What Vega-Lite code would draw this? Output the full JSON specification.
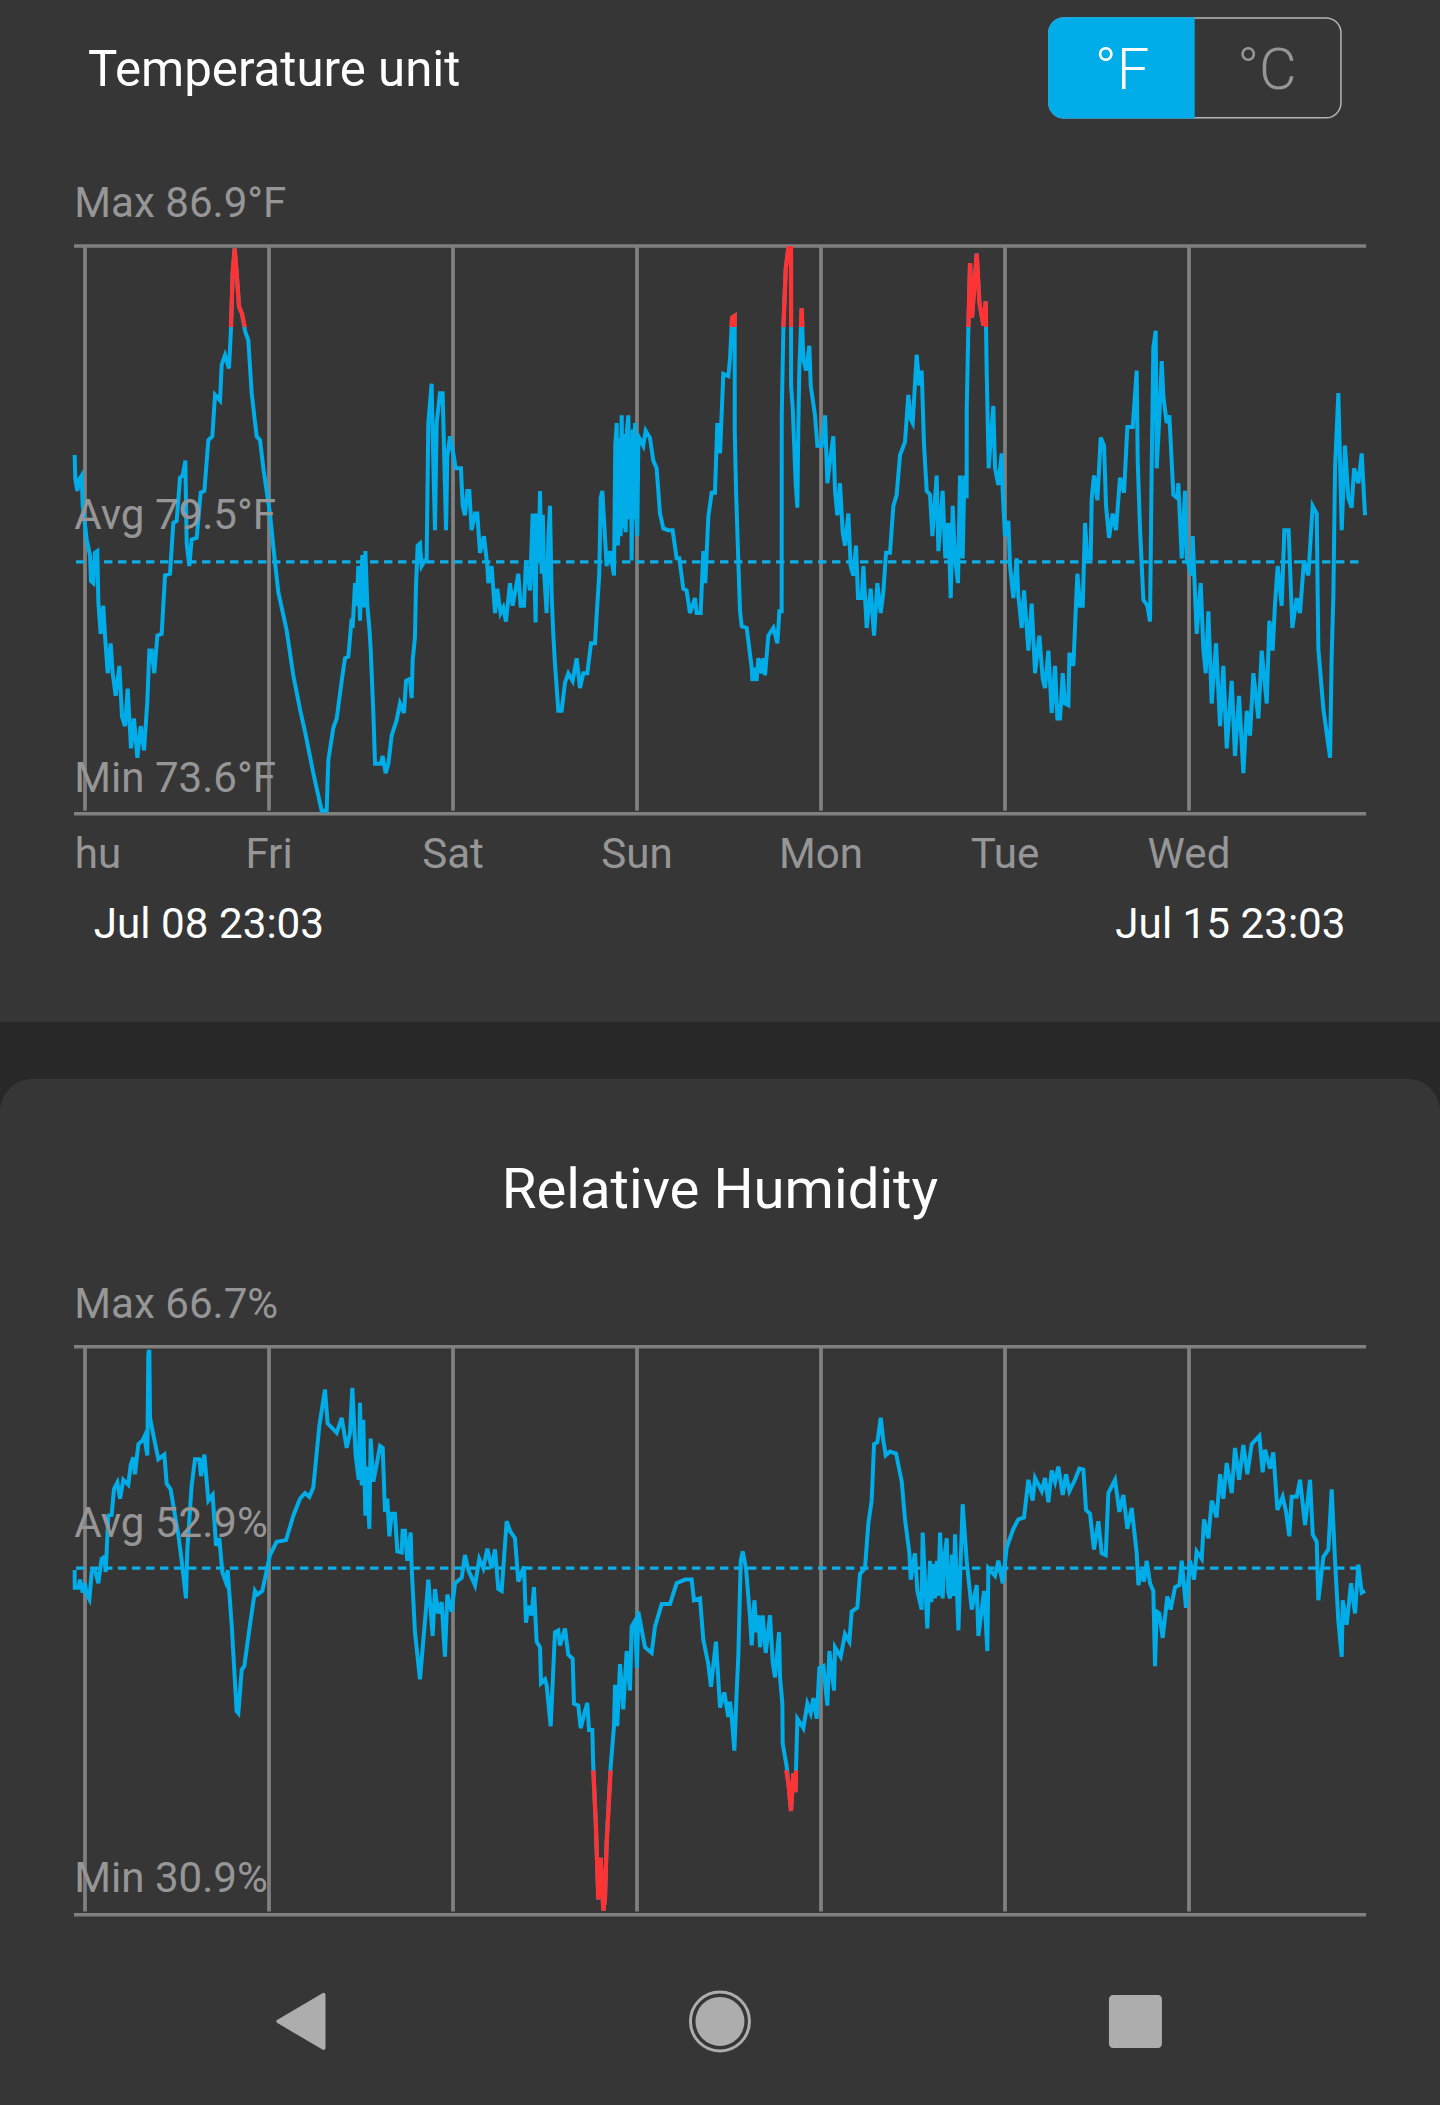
{"$schema":"https://vega.github.io/schema/vega-lite/v6.json","width":1440,"height":2105,"autosize":{"type":"fit","contains":"padding"},"padding":0,"background":"#363636","config":{"view":{"stroke":null}},
"datasets":{
"temperature":[{"h":-1.35,"v":82.0},{"h":-1.26,"v":81.43},{"h":-1.0,"v":81.16},{"h":-0.74,"v":81.43},{"h":-0.43,"v":81.52},{"h":-0.3,"v":80.81},{"h":0,"v":80.37},{"h":0.22,"v":80.02},{"h":0.65,"v":79.66},{"h":0.78,"v":79.05},{"h":1.09,"v":79.0},{"h":1.3,"v":79.71},{"h":1.61,"v":79.75},{"h":1.74,"v":78.56},{"h":2.04,"v":77.81},{"h":2.39,"v":78.47},{"h":2.61,"v":77.77},{"h":2.96,"v":76.89},{"h":3.35,"v":77.59},{"h":3.61,"v":76.89},{"h":4.0,"v":76.36},{"h":4.48,"v":77.06},{"h":4.83,"v":75.87},{"h":5.22,"v":75.65},{"h":5.57,"v":76.53},{"h":6.0,"v":75.13},{"h":6.39,"v":75.83},{"h":6.83,"v":74.91},{"h":7.26,"v":75.65},{"h":7.7,"v":75.08},{"h":8.13,"v":76.23},{"h":8.39,"v":77.42},{"h":8.7,"v":77.42},{"h":9.04,"v":76.89},{"h":9.44,"v":77.77},{"h":10.0,"v":77.81},{"h":10.44,"v":79.18},{"h":11.09,"v":79.22},{"h":11.52,"v":80.41},{"h":11.96,"v":80.46},{"h":12.39,"v":81.47},{"h":12.74,"v":81.52},{"h":13.09,"v":81.87},{"h":13.26,"v":79.93},{"h":13.61,"v":79.4},{"h":13.91,"v":80.02},{"h":14.57,"v":80.06},{"h":15.09,"v":81.12},{"h":15.57,"v":81.16},{"h":16.09,"v":82.35},{"h":16.61,"v":82.44},{"h":16.96,"v":83.41},{"h":17.61,"v":83.28},{"h":17.83,"v":84.12},{"h":18.26,"v":84.34},{"h":18.78,"v":84.03},{"h":19.04,"v":84.95},{"h":19.26,"v":86.27},{"h":19.52,"v":86.84},{"h":19.78,"v":86.27},{"h":20.09,"v":85.48},{"h":20.48,"v":85.31},{"h":20.87,"v":84.91},{"h":21.3,"v":84.69},{"h":21.74,"v":83.45},{"h":22.39,"v":82.44},{"h":22.83,"v":82.35},{"h":23.26,"v":81.69},{"h":24.13,"v":80.63},{"h":24.57,"v":79.84},{"h":25.22,"v":78.78},{"h":26.3,"v":77.9},{"h":27.17,"v":76.84},{"h":28.04,"v":76.05},{"h":28.7,"v":75.52},{"h":29.78,"v":74.55},{"h":30.87,"v":73.67},{"h":31.52,"v":73.67},{"h":31.74,"v":74.86},{"h":32.39,"v":75.61},{"h":32.83,"v":75.83},{"h":33.48,"v":76.71},{"h":33.91,"v":77.24},{"h":34.35,"v":77.28},{"h":34.78,"v":78.17},{"h":34.91,"v":77.95},{"h":35.22,"v":79.0},{"h":35.43,"v":78.47},{"h":35.65,"v":79.4},{"h":35.87,"v":78.12},{"h":36.17,"v":79.66},{"h":36.39,"v":78.43},{"h":36.57,"v":79.75},{"h":36.83,"v":78.47},{"h":37.09,"v":77.95},{"h":37.26,"v":77.46},{"h":37.61,"v":75.96},{"h":37.83,"v":74.77},{"h":38.57,"v":74.77},{"h":38.83,"v":74.95},{"h":39.22,"v":74.55},{"h":39.57,"v":74.77},{"h":40.0,"v":75.43},{"h":40.65,"v":75.79},{"h":41.08,"v":76.18},{"h":41.61,"v":75.96},{"h":41.87,"v":76.71},{"h":42.39,"v":76.76},{"h":42.61,"v":76.31},{"h":42.74,"v":77.2},{"h":43.04,"v":77.73},{"h":43.17,"v":78.91},{"h":43.39,"v":79.88},{"h":43.69,"v":79.93},{"h":43.91,"v":79.4},{"h":44.35,"v":79.53},{"h":44.56,"v":79.53},{"h":44.78,"v":82.75},{"h":45.21,"v":83.67},{"h":45.43,"v":81.87},{"h":45.65,"v":80.24},{"h":45.87,"v":82.75},{"h":46.3,"v":83.45},{"h":46.65,"v":83.45},{"h":46.87,"v":81.87},{"h":47.09,"v":80.24},{"h":47.26,"v":81.96},{"h":47.61,"v":82.44},{"h":48.04,"v":82.04},{"h":48.35,"v":81.69},{"h":49.04,"v":81.69},{"h":49.26,"v":80.81},{"h":49.56,"v":80.59},{"h":49.87,"v":81.16},{"h":50.13,"v":81.16},{"h":50.43,"v":80.24},{"h":50.87,"v":80.63},{"h":51.17,"v":80.63},{"h":51.52,"v":79.71},{"h":52.04,"v":80.1},{"h":52.48,"v":79.4},{"h":52.61,"v":79.0},{"h":53.04,"v":79.4},{"h":53.48,"v":78.3},{"h":53.78,"v":78.87},{"h":54.21,"v":78.3},{"h":54.56,"v":78.43},{"h":54.91,"v":78.1},{"h":55.43,"v":79.0},{"h":55.78,"v":78.47},{"h":56.52,"v":79.22},{"h":56.82,"v":78.47},{"h":57.26,"v":78.47},{"h":57.52,"v":79.53},{"h":58.04,"v":78.83},{"h":58.39,"v":80.63},{"h":58.78,"v":78.08},{"h":58.91,"v":80.63},{"h":59.17,"v":79.5},{"h":59.35,"v":81.16},{"h":59.56,"v":79.22},{"h":59.72,"v":80.6},{"h":59.87,"v":79.3},{"h":60.21,"v":78.3},{"h":60.45,"v":80.1},{"h":60.65,"v":80.81},{"h":60.87,"v":78.7},{"h":61.08,"v":77.81},{"h":61.3,"v":77.11},{"h":61.74,"v":76.01},{"h":62.17,"v":76.01},{"h":62.61,"v":76.67},{"h":63.04,"v":76.89},{"h":63.61,"v":76.71},{"h":64.13,"v":77.24},{"h":64.56,"v":76.54},{"h":65.0,"v":76.89},{"h":65.52,"v":76.89},{"h":66.0,"v":77.59},{"h":66.52,"v":77.59},{"h":66.74,"v":78.25},{"h":67.08,"v":79.22},{"h":67.26,"v":80.99},{"h":67.48,"v":81.16},{"h":67.82,"v":80.1},{"h":68.04,"v":79.4},{"h":68.48,"v":79.75},{"h":69.0,"v":79.18},{"h":69.17,"v":82.22},{"h":69.35,"v":82.75},{"h":69.52,"v":79.88},{"h":69.7,"v":82.4},{"h":69.87,"v":80.1},{"h":70.0,"v":82.93},{"h":70.17,"v":80.28},{"h":70.35,"v":82.5},{"h":70.52,"v":80.19},{"h":70.7,"v":82.6},{"h":70.87,"v":82.93},{"h":71.04,"v":80.5},{"h":71.2,"v":82.2},{"h":71.3,"v":79.53},{"h":71.45,"v":82.6},{"h":71.6,"v":80.5},{"h":71.74,"v":82.75},{"h":71.9,"v":80.6},{"h":72.04,"v":80.1},{"h":72.17,"v":82.2},{"h":72.3,"v":82.4},{"h":72.82,"v":82.22},{"h":73.13,"v":82.57},{"h":73.69,"v":82.4},{"h":74.13,"v":81.87},{"h":74.56,"v":81.69},{"h":75.0,"v":80.63},{"h":75.43,"v":80.28},{"h":76.08,"v":80.24},{"h":76.65,"v":80.24},{"h":77.17,"v":79.58},{"h":77.52,"v":79.58},{"h":78.04,"v":78.87},{"h":78.47,"v":78.83},{"h":78.91,"v":78.3},{"h":79.56,"v":78.65},{"h":79.78,"v":78.3},{"h":80.3,"v":78.3},{"h":80.65,"v":79.75},{"h":80.91,"v":79.0},{"h":81.3,"v":80.55},{"h":81.74,"v":81.12},{"h":82.17,"v":81.12},{"h":82.48,"v":82.75},{"h":82.83,"v":82.04},{"h":83.26,"v":83.9},{"h":83.92,"v":83.85},{"h":84.13,"v":84.25},{"h":84.4,"v":85.22},{"h":84.74,"v":85.26},{"h":84.75,"v":82.57},{"h":84.92,"v":81.16},{"h":85.22,"v":79.49},{"h":85.44,"v":78.34},{"h":85.66,"v":77.99},{"h":86.31,"v":77.95},{"h":86.96,"v":77.02},{"h":87.05,"v":76.71},{"h":87.4,"v":77.02},{"h":87.61,"v":76.71},{"h":87.83,"v":77.24},{"h":88.26,"v":76.89},{"h":88.48,"v":77.24},{"h":88.7,"v":76.84},{"h":89.13,"v":77.77},{"h":89.79,"v":77.95},{"h":90.31,"v":77.59},{"h":90.57,"v":78.34},{"h":90.87,"v":78.34},{"h":90.88,"v":82.93},{"h":91.09,"v":84.95},{"h":91.4,"v":86.36},{"h":91.74,"v":86.85},{"h":92.09,"v":86.85},{"h":92.1,"v":83.63},{"h":92.31,"v":83.1},{"h":92.7,"v":81.34},{"h":92.92,"v":80.77},{"h":93.05,"v":82.75},{"h":93.18,"v":84.07},{"h":93.48,"v":85.44},{"h":93.7,"v":84.25},{"h":94.05,"v":83.98},{"h":94.48,"v":84.56},{"h":94.66,"v":83.63},{"h":95.22,"v":82.93},{"h":95.53,"v":82.22},{"h":96.09,"v":82.22},{"h":96.53,"v":82.93},{"h":96.83,"v":81.34},{"h":97.18,"v":81.87},{"h":97.61,"v":82.44},{"h":97.83,"v":81.16},{"h":98.13,"v":80.59},{"h":98.48,"v":81.34},{"h":98.83,"v":80.19},{"h":99.13,"v":79.88},{"h":99.57,"v":80.63},{"h":99.87,"v":79.4},{"h":100.22,"v":79.18},{"h":100.57,"v":79.88},{"h":100.83,"v":78.65},{"h":101.31,"v":78.65},{"h":101.53,"v":79.4},{"h":101.96,"v":77.95},{"h":102.48,"v":78.87},{"h":102.92,"v":77.77},{"h":103.35,"v":79.0},{"h":103.79,"v":78.3},{"h":104.13,"v":78.78},{"h":104.48,"v":79.71},{"h":105.0,"v":79.71},{"h":105.44,"v":80.81},{"h":105.87,"v":81.07},{"h":106.31,"v":82.0},{"h":106.96,"v":82.31},{"h":107.39,"v":83.41},{"h":107.7,"v":82.84},{"h":107.96,"v":82.75},{"h":108.48,"v":84.35},{"h":108.83,"v":83.63},{"h":109.13,"v":83.98},{"h":109.44,"v":82.22},{"h":109.79,"v":81.16},{"h":110.22,"v":81.07},{"h":110.53,"v":80.1},{"h":111.09,"v":81.52},{"h":111.31,"v":79.75},{"h":111.87,"v":81.16},{"h":112.22,"v":79.58},{"h":112.61,"v":80.41},{"h":112.92,"v":78.65},{"h":113.18,"v":80.81},{"h":113.48,"v":79.58},{"h":113.87,"v":79.0},{"h":114.13,"v":81.52},{"h":114.48,"v":79.58},{"h":114.7,"v":81.52},{"h":115.0,"v":80.99},{"h":115.01,"v":83.1},{"h":115.22,"v":84.95},{"h":115.44,"v":86.5},{"h":115.7,"v":85.22},{"h":116.31,"v":86.72},{"h":116.66,"v":85.57},{"h":117.18,"v":85.04},{"h":117.48,"v":85.6},{"h":117.61,"v":83.98},{"h":117.87,"v":81.69},{"h":118.48,"v":83.15},{"h":118.7,"v":81.69},{"h":119.13,"v":81.3},{"h":119.57,"v":82.04},{"h":119.7,"v":81.16},{"h":120.0,"v":80.1},{"h":120.44,"v":80.46},{"h":120.66,"v":79.4},{"h":121.09,"v":78.65},{"h":121.53,"v":79.58},{"h":121.74,"v":78.7},{"h":122.18,"v":77.95},{"h":122.48,"v":78.83},{"h":123.05,"v":77.42},{"h":123.48,"v":78.52},{"h":123.92,"v":76.89},{"h":124.48,"v":77.77},{"h":124.92,"v":76.76},{"h":125.22,"v":76.54},{"h":125.66,"v":77.42},{"h":126.09,"v":75.96},{"h":126.53,"v":77.06},{"h":126.83,"v":75.83},{"h":127.18,"v":75.83},{"h":127.53,"v":76.89},{"h":127.83,"v":76.18},{"h":128.27,"v":76.14},{"h":128.4,"v":77.37},{"h":128.92,"v":77.06},{"h":129.22,"v":78.34},{"h":129.44,"v":79.22},{"h":129.79,"v":78.47},{"h":130.14,"v":78.47},{"h":130.44,"v":80.41},{"h":130.74,"v":79.58},{"h":131.18,"v":79.58},{"h":131.31,"v":80.99},{"h":131.61,"v":81.52},{"h":132.05,"v":80.94},{"h":132.48,"v":82.41},{"h":132.92,"v":82.22},{"h":133.18,"v":80.81},{"h":133.57,"v":80.06},{"h":134.05,"v":80.63},{"h":134.48,"v":80.24},{"h":135.0,"v":81.47},{"h":135.53,"v":81.12},{"h":135.96,"v":82.66},{"h":136.66,"v":82.66},{"h":137.18,"v":83.98},{"h":137.31,"v":81.87},{"h":137.61,"v":80.28},{"h":138.05,"v":78.61},{"h":138.57,"v":78.47},{"h":138.92,"v":78.1},{"h":139.13,"v":81.69},{"h":139.35,"v":84.51},{"h":139.66,"v":84.91},{"h":139.79,"v":81.69},{"h":140.09,"v":82.75},{"h":140.44,"v":84.2},{"h":140.66,"v":83.37},{"h":141.09,"v":82.75},{"h":141.44,"v":82.93},{"h":141.96,"v":81.07},{"h":142.48,"v":80.99},{"h":142.61,"v":81.34},{"h":143.05,"v":79.58},{"h":143.48,"v":81.16},{"h":143.7,"v":79.58},{"h":144.35,"v":79.18},{"h":144.48,"v":80.1},{"h":145.0,"v":77.81},{"h":145.53,"v":79.0},{"h":145.87,"v":77.46},{"h":146.18,"v":76.89},{"h":146.53,"v":78.34},{"h":146.96,"v":76.18},{"h":147.53,"v":77.59},{"h":148.05,"v":75.65},{"h":148.48,"v":77.06},{"h":148.92,"v":75.13},{"h":149.57,"v":76.71},{"h":150.0,"v":74.95},{"h":150.53,"v":76.36},{"h":151.09,"v":74.55},{"h":151.53,"v":76.01},{"h":151.96,"v":75.43},{"h":152.4,"v":76.89},{"h":153.05,"v":75.83},{"h":153.48,"v":77.42},{"h":154.14,"v":76.18},{"h":154.48,"v":78.12},{"h":154.92,"v":77.42},{"h":155.22,"v":78.52},{"h":155.57,"v":79.4},{"h":156.09,"v":78.47},{"h":156.44,"v":80.24},{"h":157.0,"v":80.24},{"h":157.48,"v":77.95},{"h":158.05,"v":78.65},{"h":158.48,"v":78.3},{"h":159.0,"v":79.53},{"h":159.57,"v":79.18},{"h":160.13,"v":80.81},{"h":160.66,"v":80.63},{"h":160.87,"v":77.46},{"h":161.53,"v":76.05},{"h":162.4,"v":74.91},{"h":162.61,"v":77.29},{"h":162.83,"v":78.69},{"h":163.05,"v":81.69},{"h":163.48,"v":83.45},{"h":163.92,"v":80.24},{"h":164.35,"v":82.22},{"h":164.79,"v":80.99},{"h":165.22,"v":80.77},{"h":165.53,"v":81.69},{"h":166.09,"v":81.34},{"h":166.53,"v":82.04},{"h":166.96,"v":80.59}],
"tempHigh":[{"h":19.04,"v":85.0,"seg":"a"},{"h":19.26,"v":86.27,"seg":"a"},{"h":19.52,"v":86.84,"seg":"a"},{"h":19.78,"v":86.27,"seg":"a"},{"h":20.09,"v":85.48,"seg":"a"},{"h":20.48,"v":85.31,"seg":"a"},{"h":20.85,"v":85.0,"seg":"a"},{"h":84.33,"v":85.0,"seg":"b"},{"h":84.4,"v":85.22,"seg":"b"},{"h":84.74,"v":85.26,"seg":"b"},{"h":84.75,"v":85.0,"seg":"b"},{"h":91.09,"v":85.0,"seg":"c"},{"h":91.4,"v":86.36,"seg":"c"},{"h":91.74,"v":86.85,"seg":"c"},{"h":92.09,"v":86.85,"seg":"c"},{"h":92.1,"v":85.0,"seg":"c"},{"h":93.37,"v":85.0,"seg":"d"},{"h":93.48,"v":85.44,"seg":"d"},{"h":93.57,"v":85.0,"seg":"d"},{"h":115.22,"v":85.0,"seg":"e"},{"h":115.44,"v":86.5,"seg":"e"},{"h":115.7,"v":85.22,"seg":"e"},{"h":116.31,"v":86.72,"seg":"e"},{"h":116.66,"v":85.57,"seg":"e"},{"h":117.18,"v":85.04,"seg":"e"},{"h":117.48,"v":85.6,"seg":"e"},{"h":117.53,"v":85.0,"seg":"e"}],
"humidity":[{"h":-1.35,"v":52.62},{"h":-1.34,"v":51.5},{"h":-0.87,"v":51.5},{"h":-0.65,"v":52.02},{"h":-0.3,"v":51.2},{"h":0,"v":51.79},{"h":0.22,"v":51.08},{"h":0.57,"v":50.77},{"h":0.87,"v":52.5},{"h":1.3,"v":52.62},{"h":1.74,"v":51.79},{"h":2.17,"v":53.33},{"h":2.52,"v":53.45},{"h":2.7,"v":52.5},{"h":3.04,"v":56.05},{"h":3.48,"v":56.1},{"h":3.78,"v":57.72},{"h":4.22,"v":58.14},{"h":4.57,"v":57.12},{"h":5.0,"v":58.31},{"h":5.65,"v":58.0},{"h":5.96,"v":59.25},{"h":6.3,"v":59.73},{"h":6.52,"v":58.66},{"h":6.96,"v":60.56},{"h":7.52,"v":60.8},{"h":7.74,"v":61.03},{"h":8.13,"v":59.85},{"h":8.26,"v":66.25},{"h":8.39,"v":66.49},{"h":8.48,"v":62.22},{"h":8.91,"v":61.15},{"h":9.57,"v":59.61},{"h":10.35,"v":59.9},{"h":10.65,"v":58.07},{"h":11.17,"v":57.71},{"h":11.74,"v":56.05},{"h":12.17,"v":54.87},{"h":12.61,"v":53.21},{"h":13.17,"v":50.84},{"h":13.35,"v":53.92},{"h":13.91,"v":57.95},{"h":14.35,"v":59.61},{"h":14.91,"v":59.61},{"h":15.13,"v":58.54},{"h":15.57,"v":59.9},{"h":16.09,"v":57.0},{"h":16.65,"v":57.36},{"h":17.09,"v":54.16},{"h":17.52,"v":54.63},{"h":17.91,"v":52.5},{"h":18.35,"v":51.9},{"h":18.61,"v":52.62},{"h":19.13,"v":49.18},{"h":19.78,"v":43.73},{"h":20.0,"v":43.61},{"h":20.44,"v":46.34},{"h":20.78,"v":46.57},{"h":21.52,"v":49.18},{"h":22.17,"v":51.31},{"h":22.48,"v":51.08},{"h":23.13,"v":51.31},{"h":24.13,"v":53.57},{"h":25.0,"v":54.4},{"h":26.22,"v":54.51},{"h":26.74,"v":55.34},{"h":27.17,"v":56.05},{"h":28.04,"v":57.12},{"h":28.7,"v":57.48},{"h":29.26,"v":57.24},{"h":29.78,"v":57.83},{"h":30.57,"v":61.74},{"h":31.3,"v":64.0},{"h":31.65,"v":61.86},{"h":32.83,"v":61.27},{"h":33.48,"v":62.22},{"h":34.13,"v":60.32},{"h":34.57,"v":61.27},{"h":34.87,"v":64.1},{"h":35.3,"v":59.85},{"h":35.7,"v":58.31},{"h":35.87,"v":63.17},{"h":36.09,"v":57.95},{"h":36.3,"v":62.1},{"h":36.57,"v":56.05},{"h":36.74,"v":59.14},{"h":37.09,"v":55.22},{"h":37.26,"v":60.91},{"h":37.61,"v":58.19},{"h":38.04,"v":59.26},{"h":38.48,"v":60.44},{"h":38.83,"v":60.32},{"h":39.13,"v":56.29},{"h":39.43,"v":57.12},{"h":39.7,"v":54.75},{"h":40.0,"v":56.17},{"h":40.43,"v":56.17},{"h":40.74,"v":53.8},{"h":41.3,"v":53.73},{"h":41.43,"v":55.1},{"h":41.74,"v":55.1},{"h":42.04,"v":53.21},{"h":42.48,"v":54.99},{"h":42.61,"v":52.74},{"h":43.04,"v":48.7},{"h":43.69,"v":45.74},{"h":44.35,"v":49.42},{"h":44.78,"v":52.02},{"h":45.0,"v":50.6},{"h":45.35,"v":48.47},{"h":45.65,"v":51.43},{"h":46.08,"v":49.89},{"h":46.52,"v":50.6},{"h":46.95,"v":47.16},{"h":47.26,"v":51.08},{"h":47.82,"v":50.0},{"h":48.26,"v":51.79},{"h":49.13,"v":52.14},{"h":49.56,"v":53.57},{"h":50.0,"v":52.62},{"h":50.87,"v":51.67},{"h":51.43,"v":53.33},{"h":51.95,"v":52.74},{"h":52.48,"v":53.97},{"h":53.04,"v":52.74},{"h":53.48,"v":53.92},{"h":53.91,"v":51.43},{"h":54.35,"v":51.31},{"h":55.0,"v":55.7},{"h":55.43,"v":55.1},{"h":56.08,"v":54.63},{"h":56.52,"v":51.9},{"h":57.26,"v":52.85},{"h":57.52,"v":49.3},{"h":57.82,"v":50.37},{"h":58.26,"v":49.77},{"h":58.56,"v":51.55},{"h":58.91,"v":48.11},{"h":59.35,"v":47.76},{"h":59.48,"v":45.5},{"h":60.0,"v":45.74},{"h":60.21,"v":45.38},{"h":60.74,"v":42.78},{"h":61.3,"v":48.7},{"h":61.74,"v":48.82},{"h":61.95,"v":47.87},{"h":62.61,"v":48.94},{"h":63.04,"v":47.28},{"h":63.61,"v":47.04},{"h":63.78,"v":44.2},{"h":64.35,"v":44.08},{"h":64.65,"v":42.66},{"h":65.21,"v":43.73},{"h":65.52,"v":44.25},{"h":65.74,"v":42.54},{"h":66.17,"v":42.54},{"h":66.3,"v":40.22},{"h":66.65,"v":36.38},{"h":66.95,"v":31.87},{"h":67.26,"v":34.48},{"h":67.61,"v":31.16},{"h":67.82,"v":31.87},{"h":68.04,"v":35.43},{"h":68.56,"v":40.22},{"h":69.0,"v":42.78},{"h":69.13,"v":45.39},{"h":69.43,"v":42.78},{"h":69.78,"v":46.69},{"h":70.21,"v":43.84},{"h":70.65,"v":47.52},{"h":71.08,"v":45.03},{"h":71.3,"v":49.06},{"h":71.74,"v":49.42},{"h":72.0,"v":46.45},{"h":72.17,"v":50.01},{"h":73.04,"v":47.76},{"h":73.91,"v":47.4},{"h":74.35,"v":49.06},{"h":75.22,"v":50.48},{"h":76.3,"v":50.48},{"h":77.17,"v":51.79},{"h":78.26,"v":52.02},{"h":79.13,"v":52.02},{"h":79.43,"v":50.72},{"h":80.22,"v":50.84},{"h":80.65,"v":48.23},{"h":81.3,"v":46.69},{"h":81.65,"v":45.27},{"h":82.3,"v":48.11},{"h":82.83,"v":43.96},{"h":83.39,"v":44.91},{"h":83.91,"v":43.37},{"h":84.13,"v":44.32},{"h":84.35,"v":43.37},{"h":84.7,"v":41.24},{"h":85.0,"v":44.91},{"h":85.22,"v":47.28},{"h":85.53,"v":53.21},{"h":85.79,"v":53.8},{"h":86.22,"v":52.74},{"h":86.74,"v":49.65},{"h":86.96,"v":47.87},{"h":87.31,"v":50.72},{"h":87.61,"v":48.7},{"h":87.83,"v":49.77},{"h":88.05,"v":47.76},{"h":88.4,"v":49.77},{"h":88.79,"v":47.4},{"h":89.35,"v":49.77},{"h":89.7,"v":46.81},{"h":90.0,"v":45.86},{"h":90.53,"v":48.7},{"h":90.66,"v":45.86},{"h":90.96,"v":44.2},{"h":91.0,"v":41.71},{"h":91.53,"v":40.22},{"h":91.74,"v":39.22},{"h":92.09,"v":37.44},{"h":92.39,"v":39.81},{"h":92.66,"v":38.63},{"h":92.92,"v":43.25},{"h":93.7,"v":42.66},{"h":94.22,"v":44.2},{"h":94.66,"v":43.61},{"h":95.0,"v":44.56},{"h":95.44,"v":43.25},{"h":95.79,"v":46.45},{"h":96.31,"v":46.57},{"h":96.83,"v":44.08},{"h":97.09,"v":47.52},{"h":97.7,"v":45.03},{"h":97.83,"v":47.76},{"h":98.57,"v":47.16},{"h":99.13,"v":48.59},{"h":99.7,"v":48.11},{"h":100.0,"v":50.01},{"h":100.74,"v":50.25},{"h":101.09,"v":52.38},{"h":101.74,"v":52.74},{"h":102.18,"v":55.58},{"h":102.61,"v":57.0},{"h":102.92,"v":60.56},{"h":103.35,"v":60.68},{"h":103.79,"v":62.22},{"h":104.13,"v":60.8},{"h":104.44,"v":59.85},{"h":105.0,"v":60.09},{"h":105.79,"v":59.97},{"h":106.53,"v":58.19},{"h":106.96,"v":55.82},{"h":107.53,"v":53.68},{"h":107.7,"v":52.02},{"h":108.26,"v":53.68},{"h":108.57,"v":51.31},{"h":109.13,"v":50.13},{"h":109.26,"v":54.99},{"h":109.87,"v":48.94},{"h":110.22,"v":53.21},{"h":110.4,"v":50.6},{"h":110.66,"v":53.0},{"h":110.85,"v":50.84},{"h":111.09,"v":53.21},{"h":111.3,"v":51.0},{"h":111.53,"v":54.99},{"h":111.87,"v":50.84},{"h":112.1,"v":53.4},{"h":112.4,"v":54.63},{"h":112.6,"v":51.2},{"h":112.83,"v":50.84},{"h":113.1,"v":53.6},{"h":113.3,"v":51.0},{"h":113.48,"v":54.87},{"h":113.92,"v":48.82},{"h":114.22,"v":53.21},{"h":114.48,"v":56.77},{"h":115.0,"v":53.21},{"h":115.66,"v":50.13},{"h":116.31,"v":51.67},{"h":116.53,"v":48.47},{"h":117.27,"v":51.31},{"h":117.7,"v":47.52},{"h":117.83,"v":52.74},{"h":118.7,"v":52.26},{"h":119.13,"v":53.21},{"h":119.7,"v":51.79},{"h":120.22,"v":54.04},{"h":121.09,"v":55.22},{"h":121.74,"v":55.82},{"h":122.48,"v":55.94},{"h":123.05,"v":58.31},{"h":123.61,"v":57.0},{"h":123.92,"v":58.43},{"h":124.79,"v":57.6},{"h":125.22,"v":58.43},{"h":125.66,"v":56.9},{"h":126.09,"v":58.9},{"h":126.53,"v":58.19},{"h":126.96,"v":59.14},{"h":127.53,"v":57.36},{"h":127.96,"v":58.66},{"h":128.4,"v":57.6},{"h":129.13,"v":58.31},{"h":129.7,"v":59.02},{"h":130.22,"v":58.95},{"h":130.57,"v":56.41},{"h":131.09,"v":56.17},{"h":131.61,"v":53.92},{"h":132.18,"v":55.7},{"h":132.61,"v":53.68},{"h":133.14,"v":53.56},{"h":133.48,"v":57.48},{"h":134.35,"v":58.31},{"h":134.92,"v":56.29},{"h":135.44,"v":57.36},{"h":135.96,"v":55.22},{"h":136.53,"v":56.53},{"h":137.18,"v":53.68},{"h":137.4,"v":51.67},{"h":137.83,"v":52.62},{"h":138.14,"v":51.9},{"h":138.48,"v":53.21},{"h":138.92,"v":51.79},{"h":139.35,"v":51.31},{"h":139.57,"v":46.57},{"h":139.79,"v":50.01},{"h":140.13,"v":49.89},{"h":140.57,"v":48.35},{"h":141.18,"v":50.96},{"h":141.61,"v":50.13},{"h":142.18,"v":51.55},{"h":142.74,"v":51.67},{"h":143.05,"v":53.21},{"h":143.61,"v":50.25},{"h":144.13,"v":53.21},{"h":144.66,"v":52.02},{"h":145.0,"v":53.8},{"h":145.66,"v":53.33},{"h":145.96,"v":55.82},{"h":146.53,"v":54.63},{"h":146.96,"v":57.0},{"h":147.61,"v":55.94},{"h":148.05,"v":58.66},{"h":148.48,"v":57.12},{"h":148.92,"v":59.37},{"h":149.57,"v":57.48},{"h":150.0,"v":60.32},{"h":150.53,"v":58.31},{"h":151.09,"v":60.51},{"h":151.61,"v":58.66},{"h":152.18,"v":60.56},{"h":153.18,"v":61.08},{"h":153.61,"v":58.78},{"h":153.92,"v":60.2},{"h":154.57,"v":59.02},{"h":155.0,"v":60.04},{"h":155.53,"v":56.41},{"h":156.22,"v":57.24},{"h":156.66,"v":56.29},{"h":157.09,"v":54.75},{"h":157.4,"v":57.24},{"h":158.05,"v":57.24},{"h":158.48,"v":58.31},{"h":159.14,"v":55.46},{"h":159.79,"v":58.31},{"h":160.14,"v":54.87},{"h":160.66,"v":54.4},{"h":160.87,"v":50.72},{"h":161.53,"v":53.45},{"h":162.18,"v":53.92},{"h":162.61,"v":57.71},{"h":163.05,"v":53.21},{"h":163.48,"v":49.42},{"h":163.92,"v":47.16},{"h":164.05,"v":50.72},{"h":164.57,"v":49.18},{"h":165.13,"v":51.79},{"h":165.66,"v":49.89},{"h":166.09,"v":52.97},{"h":166.53,"v":51.2},{"h":166.96,"v":51.31}],
"humLow":[{"h":66.3,"v":40.0,"seg":"a"},{"h":66.65,"v":36.38,"seg":"a"},{"h":66.95,"v":31.87,"seg":"a"},{"h":67.26,"v":34.48,"seg":"a"},{"h":67.61,"v":31.16,"seg":"a"},{"h":67.82,"v":31.87,"seg":"a"},{"h":68.04,"v":35.43,"seg":"a"},{"h":68.56,"v":40.0,"seg":"a"},{"h":91.45,"v":40.0,"seg":"b"},{"h":91.74,"v":39.22,"seg":"b"},{"h":92.09,"v":37.44,"seg":"b"},{"h":92.39,"v":39.81,"seg":"b"},{"h":92.66,"v":38.63,"seg":"b"},{"h":92.75,"v":40.0,"seg":"b"}]
},
"encoding":{"x":{"field":"h","type":"quantitative","title":null,"axis":null,"scale":{"domain":[-11.087,176.74],"nice":false,"zero":false}}},
"resolve":{"scale":{"y":"independent"}},
"layer":[
{"encoding":{"y":{"field":"v","type":"quantitative","title":null,"axis":null,"scale":{"domain":[43.35,92.66],"nice":false,"zero":false}}},
"layer":[
{"data":{"values":[{"h":-1.43,"h2":167.1,"v":86.9},{"h":-1.43,"h2":167.1,"v":73.6}]},"mark":{"type":"rule","color":"#808080","strokeWidth":3.5},"encoding":{"x2":{"field":"h2"}}},
{"data":{"values":[{"h":0,"v":86.9,"v2":73.67},{"h":24,"v":86.9,"v2":73.67},{"h":48,"v":86.9,"v2":73.67},{"h":72,"v":86.9,"v2":73.67},{"h":96,"v":86.9,"v2":73.67},{"h":120,"v":86.9,"v2":73.67},{"h":144,"v":86.9,"v2":73.67}]},"mark":{"type":"rule","color":"#808080","strokeWidth":3.7},"encoding":{"y2":{"field":"v2"}}},
{"data":{"values":[{"h":-1.17,"h2":166.2,"v":79.5}]},"mark":{"type":"rule","color":"#0DAFE8","strokeWidth":3.2,"strokeDash":[8.4,5.6]},"encoding":{"x2":{"field":"h2"}}},
{"data":{"name":"temperature"},"mark":{"type":"line","color":"#00ADE9","strokeWidth":4}},
{"data":{"name":"tempHigh"},"mark":{"type":"line","color":"#FF3333","strokeWidth":4.2},"encoding":{"detail":{"field":"seg"}}},
{"data":{"values":[{"h":125.73,"h2":163.82,"v":92.24,"v2":89.9}]},"mark":{"type":"rect","fillOpacity":0,"stroke":"#b5b5b5","strokeWidth":1.5,"cornerRadius":15},"encoding":{"x2":{"field":"h2"},"y2":{"field":"v2"}}},
{"data":{"values":[{"h":125.73,"h2":144.65,"v":92.24,"v2":89.9}]},"mark":{"type":"rect","fill":"#00ADE9","stroke":"#00ADE9","strokeWidth":1.5,"cornerRadiusTopLeft":15,"cornerRadiusBottomLeft":15},"encoding":{"x2":{"field":"h2"},"y2":{"field":"v2"}}},
{"data":{"values":[{"h":135.26,"v":90.575,"label":"°F"}]},"mark":{"type":"text","font":"Roboto","fontWeight":300,"fontSize":58,"color":"#ffffff","align":"center","baseline":"alphabetic"},"encoding":{"text":{"field":"label","type":"nominal"}}},
{"data":{"values":[{"h":154.17,"v":90.575,"label":"°C"}]},"mark":{"type":"text","font":"Roboto","fontWeight":300,"fontSize":58,"color":"#969696","align":"center","baseline":"alphabetic"},"encoding":{"text":{"field":"label","type":"nominal"}}},
{"data":{"values":[{"h":0.39,"v":90.645,"label":"Temperature unit"}]},"mark":{"type":"text","font":"Roboto","fontSize":49.2,"color":"#ffffff","align":"left","baseline":"alphabetic"},"encoding":{"text":{"field":"label","type":"nominal"}}},
{"data":{"values":[{"h":-1.4,"v":87.58,"label":"Max 86.9°F"},{"h":-1.4,"v":80.27,"label":"Avg 79.5°F"},{"h":-1.4,"v":74.11,"label":"Min 73.6°F"}]},"mark":{"type":"text","font":"Roboto","fontSize":42.1,"color":"#969696","align":"left","baseline":"alphabetic"},"encoding":{"text":{"field":"label","type":"nominal"}}},
{"data":{"values":[{"h":1.7,"v":72.33,"label":"hu"},{"h":24,"v":72.33,"label":"Fri"},{"h":48,"v":72.33,"label":"Sat"},{"h":72,"v":72.33,"label":"Sun"},{"h":96,"v":72.33,"label":"Mon"},{"h":120,"v":72.33,"label":"Tue"},{"h":144,"v":72.33,"label":"Wed"}]},"mark":{"type":"text","font":"Roboto","fontSize":42.1,"color":"#969696","align":"center","baseline":"alphabetic"},"encoding":{"text":{"field":"label","type":"nominal"}}},
{"data":{"values":[{"h":1.15,"v":70.69,"label":"Jul 08 23:03"}]},"mark":{"type":"text","font":"Roboto","fontSize":42.2,"color":"#ffffff","align":"left","baseline":"alphabetic"},"encoding":{"text":{"field":"label","type":"nominal"}}},
{"data":{"values":[{"h":164.42,"v":70.69,"label":"Jul 15 23:03"}]},"mark":{"type":"text","font":"Roboto","fontSize":42.2,"color":"#ffffff","align":"right","baseline":"alphabetic"},"encoding":{"text":{"field":"label","type":"nominal"}}}
]},
{"encoding":{"y":{"field":"v","type":"quantitative","title":null,"axis":null,"scale":{"domain":[18.91,151.57],"nice":false,"zero":false}}},
"layer":[
{"data":{"values":[{"h":-11.087,"h2":176.74,"v":87.17,"v2":81.31}]},"mark":{"type":"rect","fill":"#282828"},"encoding":{"x2":{"field":"h2"},"y2":{"field":"v2"}}},
{"data":{"values":[{"h":-11.087,"h2":176.74,"v":83.58,"v2":18.91}]},"mark":{"type":"rect","fill":"#363636","cornerRadiusTopLeft":33,"cornerRadiusTopRight":33},"encoding":{"x2":{"field":"h2"},"y2":{"field":"v2"}}},
{"data":{"values":[{"h":-1.43,"h2":167.1,"v":66.7},{"h":-1.43,"h2":167.1,"v":30.9}]},"mark":{"type":"rule","color":"#808080","strokeWidth":3.5},"encoding":{"x2":{"field":"h2"}}},
{"data":{"values":[{"h":0,"v":66.7,"v2":31.1},{"h":24,"v":66.7,"v2":31.1},{"h":48,"v":66.7,"v2":31.1},{"h":72,"v":66.7,"v2":31.1},{"h":96,"v":66.7,"v2":31.1},{"h":120,"v":66.7,"v2":31.1},{"h":144,"v":66.7,"v2":31.1}]},"mark":{"type":"rule","color":"#808080","strokeWidth":3.7},"encoding":{"y2":{"field":"v2"}}},
{"data":{"values":[{"h":-1.17,"h2":166.2,"v":52.75}]},"mark":{"type":"rule","color":"#0DAFE8","strokeWidth":3.2,"strokeDash":[8.4,5.6]},"encoding":{"x2":{"field":"h2"}}},
{"data":{"name":"humidity"},"mark":{"type":"line","color":"#00ADE9","strokeWidth":4}},
{"data":{"name":"humLow"},"mark":{"type":"line","color":"#FF3333","strokeWidth":4.2},"encoding":{"detail":{"field":"seg"}}},
{"data":{"values":[{"h":82.82,"v":75.45,"label":"Relative Humidity"}]},"mark":{"type":"text","font":"Roboto","fontSize":56.3,"color":"#ffffff","align":"center","baseline":"alphabetic"},"encoding":{"text":{"field":"label","type":"nominal"}}},
{"data":{"values":[{"h":-1.4,"v":68.51,"label":"Max 66.7%"},{"h":-1.4,"v":54.71,"label":"Avg 52.9%"},{"h":-1.4,"v":32.34,"label":"Min 30.9%"}]},"mark":{"type":"text","font":"Roboto","fontSize":42.1,"color":"#969696","align":"left","baseline":"alphabetic"},"encoding":{"text":{"field":"label","type":"nominal"}}},
{"data":{"values":[{"h":28.17,"v":24.18,"icon":"back"}]},"mark":{"type":"point","filled":true,"color":"#adadad","stroke":"#adadad","strokeWidth":4,"strokeJoin":"round","opacity":1,"size":2809,"shape":"M-0.85,0 L0.85,-1 L0.85,1 Z"}},
{"data":{"values":[{"h":82.82,"v":24.18,"icon":"home"}]},"mark":{"type":"point","filled":true,"color":"#adadad","opacity":1,"size":2401,"shape":"circle"}},
{"data":{"values":[{"h":82.82,"v":24.18,"icon":"home ring"}]},"mark":{"type":"point","filled":false,"stroke":"#adadad","strokeWidth":3,"opacity":1,"size":3481,"shape":"circle"}},
{"data":{"values":[{"h":133.56,"h2":140.47,"v":25.85,"v2":22.51,"icon":"recent"}]},"mark":{"type":"rect","fill":"#adadad","cornerRadius":4},"encoding":{"x2":{"field":"h2"},"y2":{"field":"v2"}}}
]}
]}
